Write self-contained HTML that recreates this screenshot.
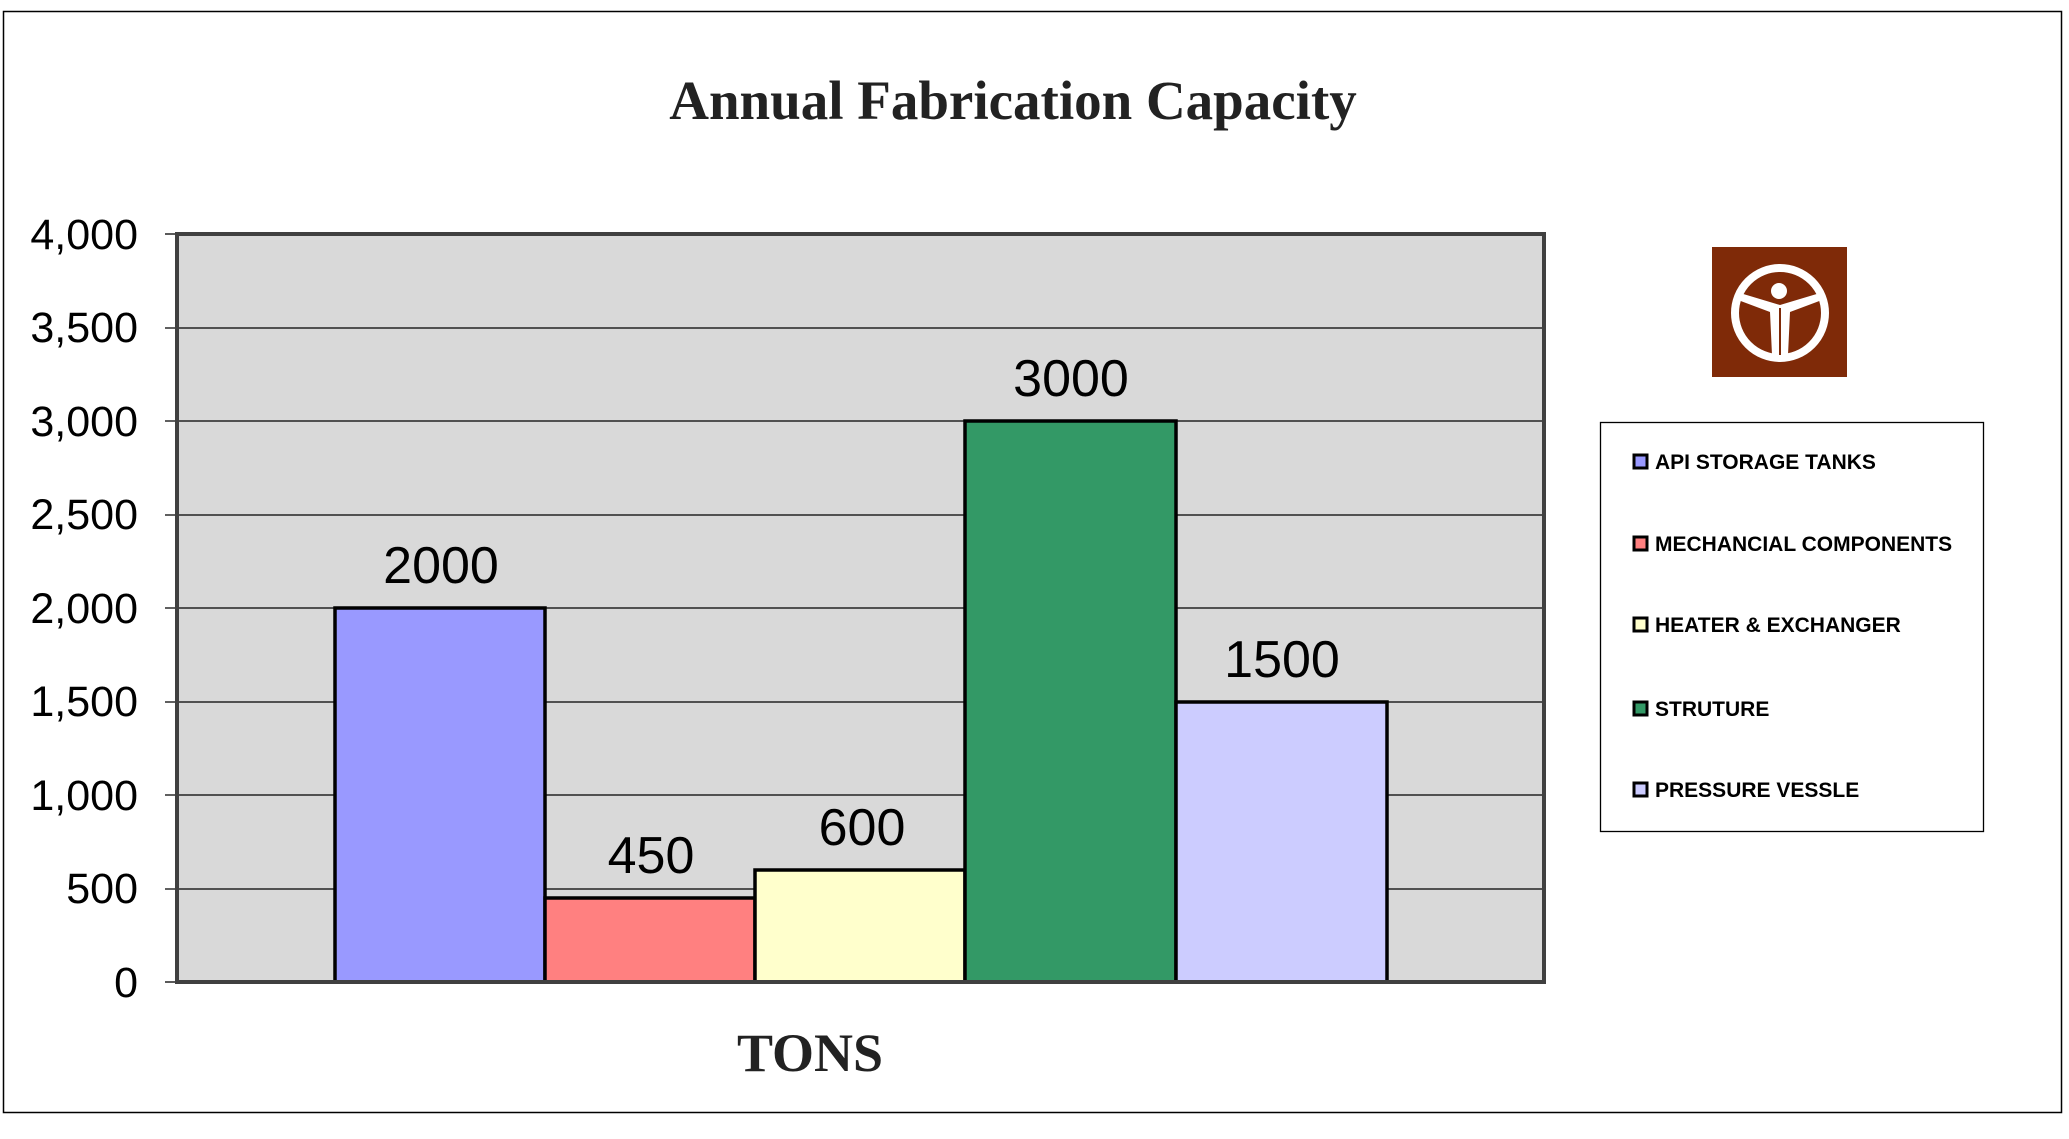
<!DOCTYPE html>
<html><head><meta charset="utf-8"><style>
html,body{margin:0;padding:0;background:#fff;}
svg{display:block;}
</style></head><body>
<svg width="2069" height="1139" viewBox="0 0 2069 1139" xmlns="http://www.w3.org/2000/svg">
<rect x="0" y="0" width="2069" height="1139" fill="#fff"/>
<rect x="3.5" y="11.5" width="2058" height="1101" fill="none" stroke="#000" stroke-width="1.5"/>
<text x="1013" y="119" text-anchor="middle" font-family="Liberation Serif, serif" font-weight="bold" font-size="55" fill="#222">Annual Fabrication Capacity</text>
<rect x="177" y="234" width="1367" height="748" fill="#d9d9d9"/>
<g stroke="#000" stroke-width="1.3">
<line x1="165" y1="328" x2="1544" y2="328"/>
<line x1="165" y1="421" x2="1544" y2="421"/>
<line x1="165" y1="515" x2="1544" y2="515"/>
<line x1="165" y1="608" x2="1544" y2="608"/>
<line x1="165" y1="702" x2="1544" y2="702"/>
<line x1="165" y1="795" x2="1544" y2="795"/>
<line x1="165" y1="889" x2="1544" y2="889"/>
<line x1="165" y1="234" x2="177" y2="234"/>
<line x1="165" y1="982" x2="177" y2="982"/>
</g>
<g stroke="#000" stroke-width="3.5">
<rect x="335" y="608" width="210" height="374" fill="#9999ff"/>
<rect x="545" y="898" width="210" height="84" fill="#ff8080"/>
<rect x="755" y="870" width="210" height="112" fill="#ffffcc"/>
<rect x="965" y="421" width="211" height="561" fill="#339966"/>
<rect x="1176" y="702" width="211" height="280" fill="#ccccff"/>
</g>
<rect x="177" y="234" width="1367" height="748" fill="none" stroke="#404040" stroke-width="4"/>
<g font-family="Liberation Sans, sans-serif" font-size="43" fill="#000" text-anchor="end">
<text x="138" y="249">4,000</text>
<text x="138" y="342">3,500</text>
<text x="138" y="436">3,000</text>
<text x="138" y="529">2,500</text>
<text x="138" y="623">2,000</text>
<text x="138" y="716">1,500</text>
<text x="138" y="810">1,000</text>
<text x="138" y="903">500</text>
<text x="138" y="997">0</text>
</g>
<g font-family="Liberation Sans, sans-serif" font-size="52" fill="#000" text-anchor="middle">
<text x="441" y="583">2000</text>
<text x="651" y="873">450</text>
<text x="862" y="845">600</text>
<text x="1071" y="396">3000</text>
<text x="1282" y="677">1500</text>
</g>
<text x="810" y="1071" text-anchor="middle" font-family="Liberation Serif, serif" font-weight="bold" font-size="54" fill="#222">TONS</text>
<rect x="1712" y="247" width="135" height="130" fill="#7f2a08"/>
<circle cx="1780" cy="313" r="45" fill="none" stroke="#fff" stroke-width="8"/>
<circle cx="1779" cy="291" r="8" fill="#fff"/>
<path d="M1738 300 L1770 312 L1772 355 L1788 355 L1790 312 L1822 300 L1820 293 L1780 305 L1740 293 Z" fill="#fff"/>
<line x1="1780" y1="308" x2="1780" y2="355" stroke="#7f2a08" stroke-width="2"/>
<rect x="1600.5" y="422.5" width="383" height="409" fill="#fff" stroke="#000" stroke-width="1.3"/>
<g stroke="#000" stroke-width="3">
<rect x="1634" y="455" width="13" height="13" fill="#9999ff"/>
<rect x="1634" y="537" width="13" height="13" fill="#ff8080"/>
<rect x="1634" y="618" width="13" height="13" fill="#ffffcc"/>
<rect x="1634" y="702" width="13" height="13" fill="#339966"/>
<rect x="1634" y="783" width="13" height="13" fill="#ccccff"/>
</g>
<g font-family="Liberation Sans, sans-serif" font-weight="bold" font-size="21" fill="#000">
<text x="1655" y="469">API STORAGE TANKS</text>
<text x="1655" y="551">MECHANCIAL COMPONENTS</text>
<text x="1655" y="632">HEATER &amp; EXCHANGER</text>
<text x="1655" y="716">STRUTURE</text>
<text x="1655" y="797">PRESSURE VESSLE</text>
</g>
</svg>
</body></html>
